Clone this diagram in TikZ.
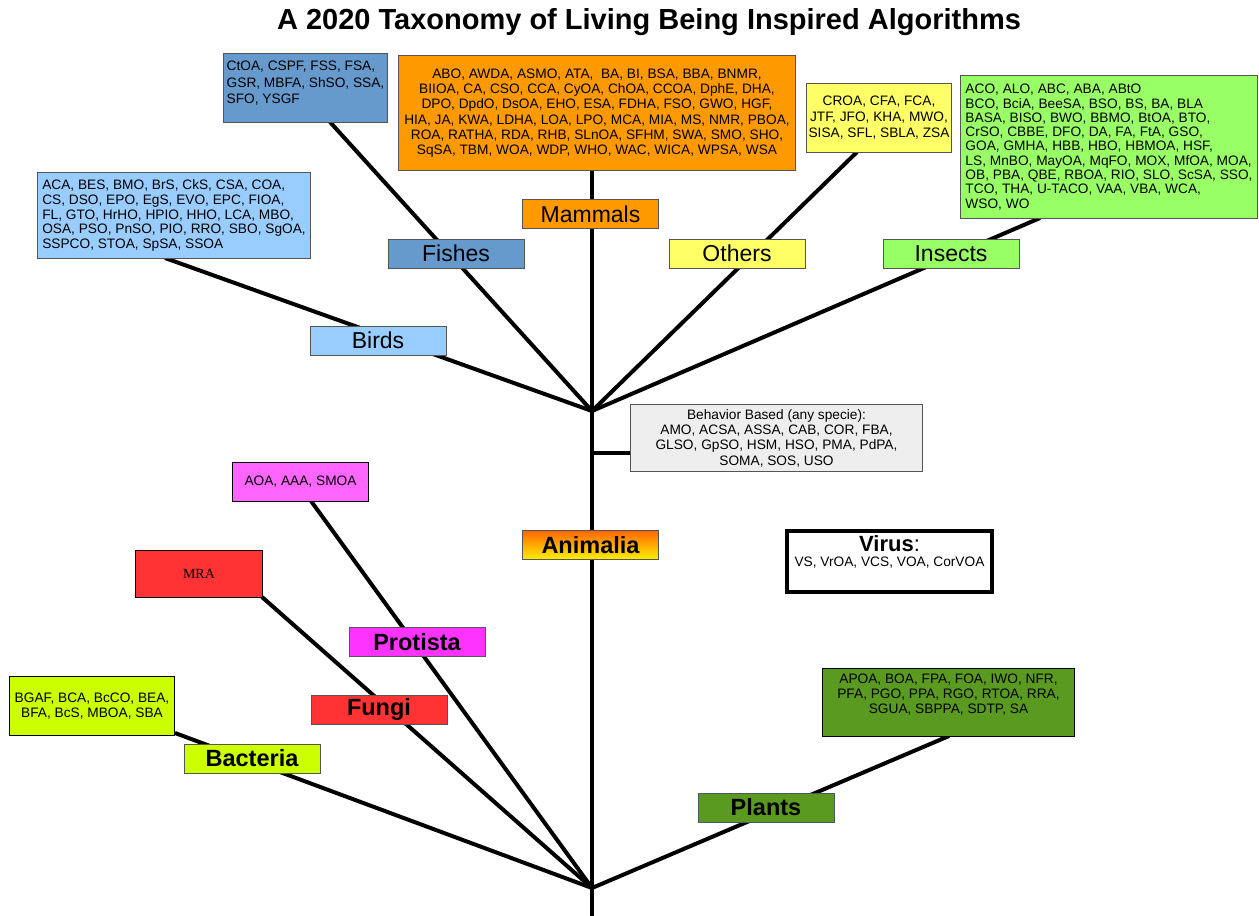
\documentclass[tikz,border=0pt]{standalone}
\usepackage{fontspec}
\setmainfont{Liberation Sans}
\newfontfamily\mraserif{Liberation Serif}
\pgfdeclarelayer{bg}
\pgfsetlayers{bg,main}
\definecolor{mamc}{HTML}{FF9900}
\definecolor{fishc}{HTML}{6699CC}
\definecolor{othc}{HTML}{FFFF66}
\definecolor{insc}{HTML}{99FF66}
\definecolor{birdc}{HTML}{99CCFF}
\definecolor{behc}{HTML}{EEEEEE}
\definecolor{protc}{HTML}{FF33FF}
\definecolor{protboxc}{HTML}{FF66FF}
\definecolor{fungc}{HTML}{FF3333}
\definecolor{bactc}{HTML}{CCFF00}
\definecolor{plantc}{HTML}{5A9A20}
\definecolor{animtop}{HTML}{FF6600}
\definecolor{animbot}{HTML}{FFF000}
\definecolor{edgec}{HTML}{555555}
\tikzset{
  smalltxt/.style={font=\fontsize{13.7}{15.3}\selectfont},
  infobox/.style={draw=edgec, line width=1pt, anchor=north west, inner sep=1pt, smalltxt},
  lab/.style={draw=edgec, line width=1pt, minimum width=136pt, minimum height=29pt, inner sep=0pt, font=\fontsize{23}{25}\selectfont},
  blab/.style={lab, font=\fontsize{23.5}{25}\selectfont\bfseries},
  branch/.style={line width=4pt},
}
\begin{document}
\begin{tikzpicture}[x=1pt,y=-1pt]
\useasboundingbox (0,0) rectangle (1259,916);

% title
\node[font=\fontsize{29}{29}\selectfont\bfseries] (title) at (649,22) {A 2020 Taxonomy of Living Being Inspired Algorithms};

% info boxes
\node[infobox, fill=fishc, minimum width=164pt, minimum height=69pt] (fishbox) at (223,53)
  {\raisebox{4pt}[\height][\depth]{\fontsize{13.7}{16.3}\selectfont\begin{tabular}{@{}l@{}}CtOA, CSPF, FSS, FSA,\\GSR, MBFA, ShSO, SSA,\\SFO, YSGF\end{tabular}}};
\node[infobox, fill=mamc, minimum width=397pt, minimum height=115pt, align=center] (mambox) at (398,55)
  {ABO, AWDA, ASMO, ATA,\ \ BA, BI, BSA, BBA, BNMR,\\
   BIIOA, CA, CSO, CCA, CyOA, ChOA, CCOA, DphE, DHA,\\
   DPO, DpdO, DsOA, EHO, ESA, FDHA, FSO, GWO, HGF,\\
   HIA, JA, KWA, LDHA, LOA, LPO, MCA, MIA, MS, NMR, PBOA,\\
   ROA, RATHA, RDA, RHB, SLnOA, SFHM, SWA, SMO, SHO,\\
   SqSA, TBM, WOA, WDP, WHO, WAC, WICA, WPSA, WSA};
\node[infobox, fill=othc, minimum width=145pt, minimum height=69pt, inner sep=0pt, align=center,
      font=\fontsize{13.7}{16}\selectfont] (othbox) at (806,83)
  {CROA, CFA, FCA,\\JTF, JFO, KHA, MWO,\\SISA, SFL, SBLA, ZSA};
\node[infobox, fill=insc, minimum width=297pt, minimum height=143pt, inner ysep=0pt, align=left,
      font=\fontsize{13.7}{14.3}\selectfont] (insbox) at (960,75)
  {ACO, ALO, ABC, ABA, ABtO\\
   BCO, BciA, BeeSA, BSO, BS, BA, BLA\\
   BASA, BISO, BWO, BBMO, BtOA, BTO,\\
   CrSO, CBBE, DFO, DA, FA, FtA, GSO,\\
   GOA, GMHA, HBB, HBO, HBMOA, HSF,\\
   LS, MnBO, MayOA, MqFO, MOX, MfOA, MOA,\\
   OB, PBA, QBE, RBOA, RIO, SLO, ScSA, SSO,\\
   TCO, THA, U-TACO, VAA, VBA, WCA,\\
   WSO, WO};
\node[infobox, fill=birdc, minimum width=273pt, minimum height=86pt, align=left,
      font=\fontsize{13.7}{14.8}\selectfont] (birdbox) at (37,172)
  {ACA, BES, BMO, BrS, CkS, CSA, COA,\\
   CS, DSO, EPO, EgS, EVO, EPC, FIOA,\\
   FL, GTO, HrHO, HPIO, HHO, LCA, MBO,\\
   OSA, PSO, PnSO, PIO, RRO, SBO, SgOA,\\
   SSPCO, STOA, SpSA, SSOA};
\node[infobox, fill=behc, minimum width=292pt, minimum height=67pt, align=center] (behbox) at (630,404)
  {Behavior Based (any specie):\\
   AMO, ACSA, ASSA, CAB, COR, FBA,\\
   GLSO, GpSO, HSM, HSO, PMA, PdPA,\\
   SOMA, SOS, USO};
\node[infobox, fill=protboxc, draw=black, minimum width=136pt, minimum height=39pt] (protbox) at (232,462)
  {AOA, AAA, SMOA};
\node[infobox, fill=fungc, draw=black, minimum width=127pt, minimum height=47pt, font=\mraserif\fontsize{14}{16}\selectfont] (fungbox) at (135,550)
  {MRA};
\node[infobox, fill=bactc, draw=black, minimum width=165pt, minimum height=59pt, align=center] (bactbox) at (9,676)
  {BGAF, BCA, BcCO, BEA,\\BFA, BcS, MBOA, SBA};
\node[infobox, fill=plantc, draw=black, minimum width=252pt, minimum height=68pt] (plantbox) at (822,668)
  {\raisebox{7pt}[\height][\depth]{\begin{tabular}{@{}c@{}}APOA, BOA, FPA, FOA, IWO, NFR,\\
   PFA, PGO, PPA, RGO, RTOA, RRA,\\
   SGUA, SBPPA, SDTP, SA\end{tabular}}};
\node[draw=black, line width=4pt, fill=white, anchor=north west, minimum width=205pt, minimum height=61pt, inner sep=0pt, smalltxt] (virusbox) at (785,529)
  {\raisebox{8pt}[\height][\depth]{\begin{tabular}{@{}c@{}}{\fontsize{22}{22}\selectfont\textbf{Virus}:}\\VS, VrOA, VCS, VOA, CorVOA\end{tabular}}};

% labels
\node[lab, fill=mamc] (mamlab) at (590.5,214) {Mammals};
\node[lab, fill=fishc] (fishlab) at (456,253.5) {Fishes};
\node[lab, fill=othc] (othlab) at (737,253.5) {Others};
\node[lab, fill=insc] (inslab) at (951,253.5) {Insects};
\node[lab, fill=birdc] (birdlab) at (378,340.5) {Birds};
\node[blab, top color=animtop, bottom color=animbot, draw=edgec] (animlab) at (590.5,545) {Animalia};
\node[blab, fill=protc] (protlab) at (417,642) {Protista};
\node[blab, fill=fungc] (funglab) at (379,709.5) {Fungi};
\node[blab, fill=bactc] (bactlab) at (252,758.5) {Bacteria};
\node[blab, fill=plantc] (plantlab) at (766,807.5) {Plants};

% junction points and branch ends
\coordinate (top) at (592,411);
\coordinate (bot) at (592,888);
\coordinate (trunkend) at (592,916);
\coordinate (bj) at (592,453);
\coordinate (birdend) at (165,258);
\coordinate (fishend) at (330,122);
\coordinate (othend) at (857,152);
\coordinate (insend) at (1040,218);
\coordinate (protend) at (311,501);
\coordinate (fungend) at (262,597);
\coordinate (bactend) at (175,733);
\coordinate (plantend) at (949,736);

\begin{pgfonlayer}{bg}
  \draw[branch] (mambox.south -| top) -- (trunkend);
  \draw[branch] (top) -- (birdend);
  \draw[branch] (top) -- (fishend);
  \draw[branch] (top) -- (othend);
  \draw[branch] (top) -- (insend);
  \draw[branch] (bj) -- (bj -| behbox.west);
  \draw[branch] (bot) -- (protend);
  \draw[branch] (bot) -- (fungend);
  \draw[branch] (bot) -- (bactend);
  \draw[branch] (bot) -- (plantend);
\end{pgfonlayer}
\end{tikzpicture}
\end{document}
